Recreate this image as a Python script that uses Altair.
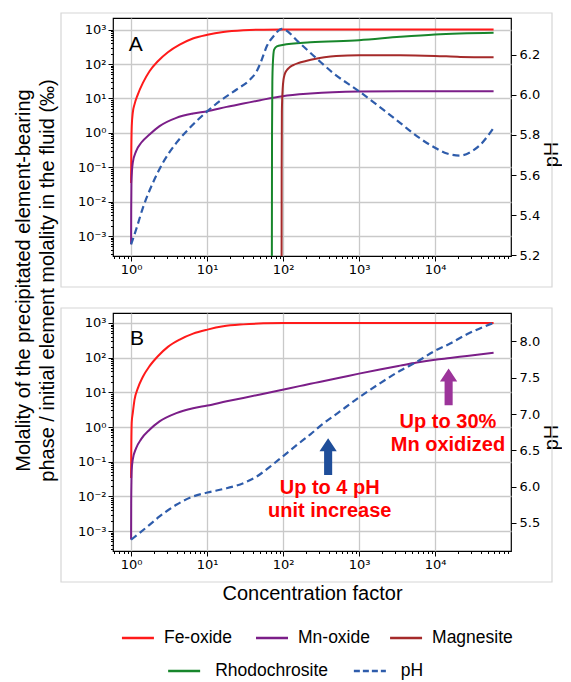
import altair as alt
import pandas as pd

# ---------------- data ----------------
series_names = ["Fe-oxide", "Mn-oxide", "Magnesite", "Rhodochrosite", "pH"]
series_colors = ["#ff1a1a", "#7b1e88", "#a52a2a", "#17862b", "#2e5cab"]

# Panel A
a_fe_cf = [1.0, 1.005, 1.02, 1.052, 1.107, 1.225, 1.43, 1.748, 2.25, 3.05, 4.36, 6.5, 10.1, 16.3, 30, 55, 100, 1000, 10000, 59000]
a_fe_m = [0.035, 0.21, 1.55, 3.8, 6.6, 12.9, 28.2, 61.7, 120, 219, 363, 550, 708, 851, 955, 995, 1000, 1000, 1000, 1000]

a_mn_cf = [1.0, 1.003, 1.01, 1.052, 1.165, 1.356, 1.748, 2.37, 3.94, 6.54, 10.1, 18.1, 30, 50, 98.4, 229, 453, 1000, 10000, 59000]
a_mn_m = [5.8e-4, 0.006, 0.035, 0.135, 0.295, 0.513, 0.893, 1.56, 2.72, 3.63, 4.25, 5.67, 7.08, 8.87, 11.6, 13.8, 15.1, 15.8, 16.2, 16.2]

a_mg_cf = [95.5, 95.9, 96.5, 97.5, 99, 101.5, 105, 112, 122, 135, 160, 200, 260, 350, 500, 1000, 3470, 10000, 21400, 59000]
a_mg_m = [1e-6, 0.1, 4.0, 10, 20, 35.5, 50, 66, 80, 92, 107, 122, 140, 158, 172, 180, 180, 172, 161, 157]

a_rh_cf = [71.0, 71.6, 72.3, 73.5, 76.3, 82.8, 98.4, 229, 1000, 3470, 10000, 59000]
a_rh_m = [1e-6, 1.0, 30, 110, 263, 327, 358, 427, 490, 617, 724, 813]

a_ph_cf = [1.0, 1.165, 1.43, 1.935, 2.62, 3.94, 5.91, 10.1, 14.7, 24.5, 36.7, 45, 52.5, 61, 74.8, 96.4,
           164, 272, 453, 1000, 2080, 3470, 5760, 10000, 14400, 21500, 29200, 39700, 59000]
a_ph = [5.255, 5.329, 5.437, 5.561, 5.661, 5.76, 5.835, 5.918, 5.968, 6.026, 6.075, 6.117, 6.175, 6.241, 6.291, 6.328,
        6.258, 6.183, 6.109, 6.017, 5.926, 5.86, 5.794, 5.736, 5.707, 5.697, 5.714, 5.752, 5.835]

# Panel B
b_fe_cf = [1.0, 1.005, 1.02, 1.052, 1.107, 1.225, 1.43, 1.748, 2.25, 3.05, 4.36, 6.55, 10.1, 16.3, 30, 55, 100, 1000, 10000, 59000]
b_fe_m = [0.034, 0.2, 1.41, 2.5, 6.0, 13.0, 28.2, 57.0, 110, 205, 333, 494, 644, 802, 912, 977, 1000, 1000, 1000, 1000]

b_mn_cf = [1.0, 1.003, 1.01, 1.02, 1.052, 1.165, 1.356, 1.748, 2.37, 3.94, 6.54, 10.1, 18.1, 30, 50, 98.4, 164, 229,
           301, 555, 1000, 1880, 3470, 5760, 10000, 15800, 26300, 59000]
b_mn_m = [5.75e-4, 0.0063, 0.0245, 0.0589, 0.115, 0.245, 0.447, 0.832, 1.45, 2.51, 3.47, 4.17, 5.5, 6.9, 8.7, 11.9, 15.1, 17.6,
          20.0, 26.4, 34.7, 45.7, 58.9, 72.4, 87.1, 97.7, 112, 138]

b_ph_cf = [1.0, 1.29, 1.748, 2.37, 3.94, 6.54, 10.1, 18.1, 30, 45, 67.6, 98.4, 152, 229, 301, 555, 1000, 1880, 3470,
           5760, 10000, 15800, 26300, 59000]
b_ph = [5.266, 5.358, 5.472, 5.587, 5.748, 5.862, 5.917, 5.977, 6.046, 6.138, 6.275, 6.413, 6.573, 6.72, 6.826, 7.032,
        7.229, 7.422, 7.596, 7.72, 7.872, 7.972, 8.1, 8.257]

# annotations (data coordinates; text anchored at its first line)
panel_labels = ["A", "B"]
panel_label_cf = [0.93, 0.97]
panel_label_m = [234, 229]
note_texts = ["Up to 30%\nMn oxidized", "Up to 4 pH\nunit increase"]
note_cf = [14800, 411]
note_m = [1.42, 0.018]
arrow_ph_cf, arrow_ph_m = [392], [0.14]
arrow_mn_cf, arrow_mn_m = [15100], [14.4]

# axes
x_domain = [0.578, 1.0e5]
ya_domain = [2.63e-4, 2173]
yb_domain = [2.66e-4, 1941]
pha_domain = [5.197, 6.382]
phb_domain = [5.111, 8.393]
pha_ticks = [5.2, 5.4, 5.6, 5.8, 6.0, 6.2]
phb_ticks = [5.5, 6.0, 6.5, 7.0, 7.5, 8.0]
x_ticks = [k * 10.0 ** e for e in range(-1, 5) for k in range(1, 10) if x_domain[0] <= k * 10.0 ** e <= x_domain[1]]
y_ticks = [k * 10.0 ** e for e in range(-4, 4) for k in range(1, 10) if 2.7e-4 <= k * 10.0 ** e <= 1941]

legend_row1 = ["Fe-oxide", "Mn-oxide", "Magnesite"]
legend_row2 = ["Rhodochrosite", "pH"]

# ---------------- styling helpers ----------------
SANS = "Liberation Sans"
TICKF = "DejaVu Sans"
W, H = 398, 238
PH_COLOR = series_colors[4]

MAJOR = "abs(log(datum.value)/LN10 - round(log(datum.value)/LN10)) < 0.001"
SUP = "['\u207b\u2074','\u207b\u00b3','\u207b\u00b2','\u207b\u00b9','\u2070','\u00b9','\u00b2','\u00b3','\u2074','\u2075']"
LABEL = f"({MAJOR}) ? '10' + {SUP}[round(log(datum.value)/LN10) + 4] : ''"

def log_axis(orient, values, **kw):
    return alt.Axis(orient=orient, values=values, labelExpr=LABEL, labelOverlap=False, labelFlush=False,
                    labelFont=TICKF, labelFontSize=13, labelColor="black", labelPadding=2,
                    tickColor="black", tickWidth=1,
                    tickSize={"condition": {"test": MAJOR, "value": 5}, "value": 2.5},
                    grid=True, gridColor="#c9c9c9", gridWidth=1.3,
                    gridOpacity={"condition": {"test": MAJOR, "value": 1}, "value": 0},
                    domain=False, titleFont=SANS, titleFontSize=20, titleFontWeight="normal",
                    titleColor="black", titleLimit=1000, **kw)

xscale = alt.Scale(type="log", domain=x_domain, nice=False)

def xenc(show_title):
    if show_title:
        ax = log_axis("bottom", x_ticks, title="Concentration factor", titleY=42, titleBaseline="middle")
        return alt.X("cf:Q", scale=xscale, axis=ax, title="Concentration factor")
    ax = log_axis("bottom", x_ticks, title=None)
    return alt.X("cf:Q", scale=xscale, axis=ax, title=None)

def long_df(pairs):
    rows = []
    for name, xs, ys in pairs:
        for a, b in zip(xs, ys):
            rows.append({"series": name, "cf": a, "m": b})
    return pd.DataFrame(rows)

color_scale = alt.Scale(domain=series_names, range=series_colors)

def panel(solid_df, ph_cf, ph_vals, ydom, phdom, phticks, ph_title_y, idx, bottom, extra=()):
    ys = alt.Scale(type="log", domain=ydom, nice=False)
    if idx == 0:
        yax = log_axis("left", y_ticks,
                       title=["Molality of the precipitated element-bearing",
                              "phase / initial element molality in the fluid (\u2030)"],
                       titleX=-90, titleY=262, titleAngle=270, titleAlign="center",
                       titleBaseline="middle", titleLineHeight=24)
    else:
        yax = log_axis("left", y_ticks, title=None)
    frame = alt.Chart(pd.DataFrame({"k": [0]})).mark_rect(
        fillOpacity=0, stroke="#d6d6d6", strokeWidth=1.2
    ).encode(x=alt.value(-52), x2=alt.value(W + 41), y=alt.value(-5), y2=alt.value(H + 31))
    lines = alt.Chart(solid_df).mark_line(strokeWidth=2, clip=True, interpolate="monotone").encode(
        x=xenc(bottom),
        y=alt.Y("m:Q", scale=ys, axis=yax),
        color=alt.Color("series:N", scale=color_scale, legend=None),
    )
    phdf = pd.DataFrame({"cf": ph_cf, "ph": ph_vals})
    phax = alt.Axis(orient="right", values=phticks, format=".1f", title="pH", titleAngle=270,
                    titleX=40, titleY=ph_title_y, titleAlign="center", titleBaseline="middle",
                    titleFont=SANS, titleFontSize=20, titleFontWeight="normal", titleColor="black",
                    labelFont=TICKF, labelFontSize=13, labelColor="black", labelPadding=3,
                    tickSize=5, tickColor="black", domain=False, grid=False)
    phl = alt.Chart(phdf).mark_line(color=PH_COLOR, strokeWidth=2.2, strokeDash=[7, 4], clip=True,
                                    interpolate="monotone").encode(
        x=xenc(bottom),
        y=alt.Y("ph:Q", scale=alt.Scale(domain=phdom, zero=False, nice=False), axis=phax),
    )
    lab = alt.Chart(pd.DataFrame({"t": [panel_labels[idx]], "cf": [panel_label_cf[idx]],
                                  "m": [panel_label_m[idx]]})).mark_text(
        align="left", baseline="alphabetic", font=SANS, fontSize=21, color="black"
    ).encode(x=xenc(bottom), y=alt.Y("m:Q", scale=ys, axis=None), text="t:N")
    layers = [frame, lines, phl, lab]
    for e in extra:
        layers.append(e(ys, bottom))
    return alt.layer(*layers).resolve_scale(y="independent").properties(width=W, height=H)

ARROW = "M-0.22,1 L0.22,1 L0.22,-0.29 L0.47,-0.29 L0,-1 L-0.47,-0.29 L-0.22,-0.29 Z"

def notes_layer(ys, bottom):
    df = pd.DataFrame({"t": note_texts, "cf": note_cf, "m": note_m})
    return alt.Chart(df).mark_text(align="center", baseline="middle", lineBreak="\n", lineHeight=23,
                                   font=SANS, fontSize=20, fontWeight="bold", color="#ff0000").encode(
        x=xenc(bottom), y=alt.Y("m:Q", scale=ys, axis=None), text="t:N")

def arrow_ph_layer(ys, bottom):
    df = pd.DataFrame({"cf": arrow_ph_cf, "m": arrow_ph_m})
    return alt.Chart(df).mark_point(shape=ARROW, size=1350, filled=True, color="#1f4e9a", opacity=1,
                                    strokeWidth=0).encode(
        x=xenc(bottom), y=alt.Y("m:Q", scale=ys, axis=None))

def arrow_mn_layer(ys, bottom):
    df = pd.DataFrame({"cf": arrow_mn_cf, "m": arrow_mn_m})
    return alt.Chart(df).mark_point(shape=ARROW, size=1350, filled=True, color="#9c349a", opacity=1,
                                    strokeWidth=0).encode(
        x=xenc(bottom), y=alt.Y("m:Q", scale=ys, axis=None))

dfA = long_df([("Fe-oxide", a_fe_cf, a_fe_m), ("Mn-oxide", a_mn_cf, a_mn_m),
               ("Magnesite", a_mg_cf, a_mg_m), ("Rhodochrosite", a_rh_cf, a_rh_m)])
dfB = long_df([("Fe-oxide", b_fe_cf, b_fe_m), ("Mn-oxide", b_mn_cf, b_mn_m)])

panelA = panel(dfA, a_ph_cf, a_ph, ya_domain, pha_domain, pha_ticks, 136, 0, False)
panelB = panel(dfB, b_ph_cf, b_ph, yb_domain, phb_domain, phb_ticks, 124, 1, True,
               extra=(notes_layer, arrow_ph_layer, arrow_mn_layer))

LINE = "M-1,0L1,0"

def legend_row(items, width, pad, dx):
    df = pd.DataFrame({"series": items})
    xe = alt.X("series:N", sort=items, scale=alt.Scale(type="point", padding=pad), axis=None)
    sym = alt.Chart(df).mark_point(shape=LINE, size=1024, filled=False, strokeWidth=2.6, opacity=1).encode(
        x=xe,
        color=alt.Color("series:N", scale=color_scale, legend=None),
        strokeDash=alt.StrokeDash("series:N", scale=alt.Scale(domain=series_names,
                                  range=[[1, 0], [1, 0], [1, 0], [1, 0], [6, 3]]), legend=None),
    )
    txt = alt.Chart(df).mark_text(align="left", baseline="middle", dx=dx, font=SANS, fontSize=17.5,
                                  color="black").encode(x=xe, text="series:N")
    return alt.layer(sym, txt).properties(width=width, height=20,
                                          view=alt.ViewBackground(stroke="transparent"))

row1 = legend_row(legend_row1, 318, 0.186, 26)
row2 = legend_row(legend_row2, 328, 0.383, 31)

legend = alt.vconcat(row1, row2, spacing=13, bounds="flush")
lower = alt.vconcat(panelB, legend, spacing=77, bounds="flush")
chart = alt.vconcat(panelA, lower, spacing=57, bounds="flush").properties(
    padding={"left": 4, "top": 3, "right": 0, "bottom": 0}, background="white"
).configure_view(stroke="black", strokeWidth=1.2)

chart.save("out.html", embed_options={"renderer": "svg", "actions": False})
